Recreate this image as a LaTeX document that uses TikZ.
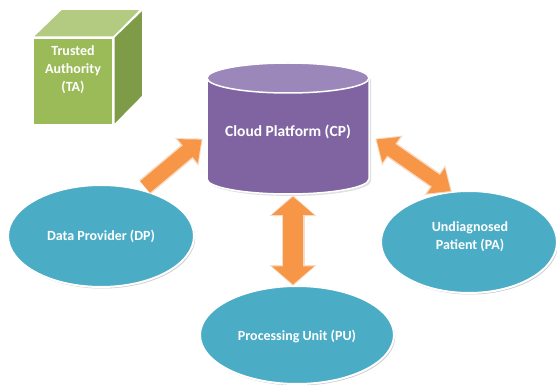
\documentclass[tikz,border=0pt]{standalone}
\usepackage{fontspec}
\setmainfont{Carlito}
\usetikzlibrary{shapes.geometric,arrows.meta,shadows,calc}
\definecolor{teal}{HTML}{4BACC6}
\definecolor{cpbody}{HTML}{8064A2}
\definecolor{cptop}{HTML}{9C87BA}
\definecolor{grfront}{HTML}{9BBB59}
\definecolor{grtop}{HTML}{B3CB80}
\definecolor{grside}{HTML}{7E9B48}
\definecolor{orng}{HTML}{F79646}
\definecolor{orngedge}{HTML}{F6DCC6}
\tikzset{
  lbl/.style={text=white, font=\fontsize{14}{18}\selectfont\bfseries, align=center},
  party/.style={ellipse, fill=teal, draw=white, line width=2pt, inner sep=0pt,
    drop shadow={shadow xshift=1.2pt, shadow yshift=-1.5pt, opacity=0.35, fill=black!60}},
  edgepass/.style={draw=orngedge, line width=#1+3pt},
  fillpass/.style={draw=orng, line width=#1},
}
\begin{document}
\begin{tikzpicture}[x=1pt,y=-1pt]
\useasboundingbox (0,0) rectangle (557,385);
% Trusted Authority cube
\node[fill=grfront, draw=white, line width=1.5pt, minimum width=80pt, minimum height=87pt, inner sep=0pt] (ta) at (73,81.5) {};
\fill[grtop, draw=white, line width=1.5pt, line join=round] (ta.north west) -- ++(29,-28) -- ++(80,0) -- (ta.north east) -- cycle;
\fill[grside, draw=white, line width=1.5pt, line join=round] (ta.north east) -- ++(29,-28) -- ++(0,87) -- (ta.south east) -- cycle;
\node[lbl] (talbl) at (73,70) {Trusted\\Authority\\(TA)};
% Cloud Platform cylinder
\fill[black!40, opacity=0.3] (209,79) -- (209,181) arc[start angle=180, end angle=360, x radius=81pt, y radius=15pt] -- (371,79) -- cycle;
\filldraw[fill=cpbody, draw=white, line width=1.5pt] (207,78) -- (207,179) arc[start angle=180, end angle=360, x radius=81pt, y radius=15pt] -- (369,78);
\filldraw[fill=cptop, draw=white, line width=1.5pt] (288,78) ellipse [x radius=81pt, y radius=15pt];
\node[minimum width=162pt, minimum height=131pt, inner sep=0pt] (cp) at (288,128.5) {};
\node[lbl, font=\fontsize{15.5}{18}\selectfont\bfseries] (cplbl) at (288,132) {Cloud Platform (CP)};
% parties
\node[party, minimum width=186pt, minimum height=102pt] (dp) at (101,236) {};
\node[lbl] at (dp.center) {Data Provider (DP)};
\node[party, minimum width=176pt, minimum height=102pt] (pa) at (469,242) {};
\node[lbl] at ($(pa.center)+(1,-5)$) {Undiagnosed\\Patient (PA)};
\node[party, minimum width=194pt, minimum height=98pt] (pu) at (297,335) {};
\node[lbl] at ($(pu.center)+(0,1)$) {Processing Unit (PU)};
% arrows
\coordinate (dpS) at ($(dp.center)+(44,-49)$);
\coordinate (cpW) at ($(cp.west)+(-4,10)$);
\draw[edgepass=15pt, -{Triangle[length=21pt, width=35pt]}] (dpS) -- (cpW);
\draw[fillpass=15pt, shorten >=1.6pt, -{Triangle[length=18pt, width=30pt]}] (dpS) -- (cpW);
\coordinate (cpE) at ($(cp.east)+(6,10)$);
\coordinate (paN) at ($(pa.center)+(-17,-50)$);
\draw[edgepass=14pt, {Triangle[length=21pt, width=35pt]}-{Triangle[length=21pt, width=35pt]}] (cpE) -- (paN);
\draw[fillpass=14pt, shorten >=1.6pt, shorten <=1.6pt, {Triangle[length=18pt, width=30pt]}-{Triangle[length=18pt, width=30pt]}] (cpE) -- (paN);
\coordinate (cpS) at ($(cp.south)+(5,1)$);
\coordinate (puN) at ($(pu.north)+(-4,1)$);
\draw[edgepass=20pt, {Triangle[length=21pt, width=46pt]}-{Triangle[length=21pt, width=46pt]}] (cpS) -- (puN);
\draw[fillpass=20pt, shorten >=1.6pt, shorten <=1.6pt, {Triangle[length=18pt, width=41pt]}-{Triangle[length=18pt, width=41pt]}] (cpS) -- (puN);
\end{tikzpicture}
\end{document}
